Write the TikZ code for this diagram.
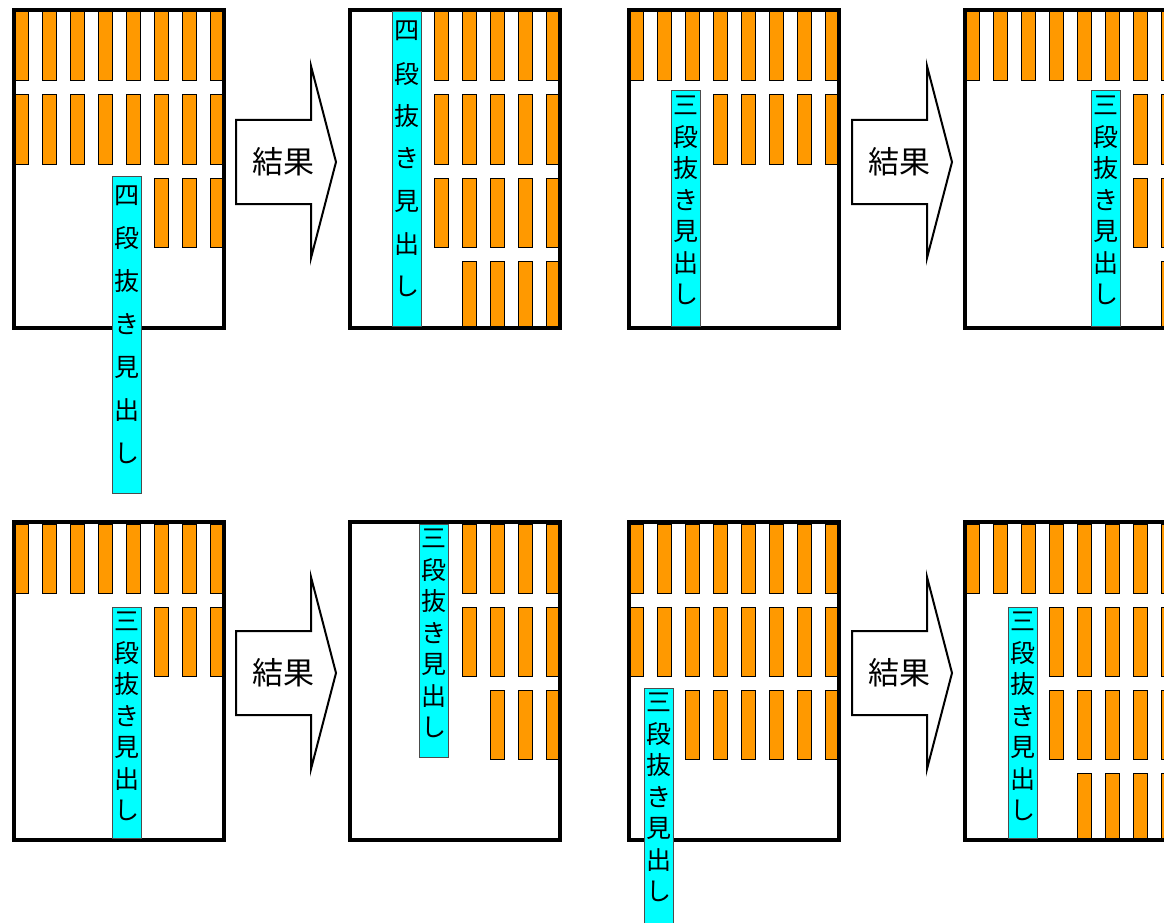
\documentclass[tikz,border=0pt]{standalone}
\usepackage{fontspec}
\newfontfamily\cjk{Noto Sans CJK JP}
\definecolor{danorange}{HTML}{FF9900}
\definecolor{midashicyan}{HTML}{00FFFF}
\tikzset{
  danbar/.style={draw=black, fill=danorange, line width=1pt},
  pageframe/.style={draw=black, line width=4pt},
  midashibox/.style={draw=black!70, fill=midashicyan, line width=1pt},
  midashichar/.style={font=\cjk\fontsize{25}{25}\selectfont, inner sep=0pt},
  resultarrow/.style={draw=black, fill=white, line width=2pt, line join=miter},
  kekka/.style={font=\cjk\fontsize{31}{31}\selectfont, inner sep=0pt},
}
% one page: bars (row/first col/last col) and frame
\newcommand{\kumimen}[3]{%
  \begin{scope}[shift={(#1,#2)}]
    \begin{scope}
      \clip (4,4) rectangle (210,318);
      \foreach \r/\a/\b in {#3}
        \foreach \c in {\a,...,\b}
          \draw[danbar] ({2+28.1*(\c-1)},{4+83*\r}) rectangle ++(14,69);
    \end{scope}
    \draw[pageframe] (2,2) rectangle (212,320);
  \end{scope}}
% vertical heading: name, left, top, bottom, first char, pitch
\newcommand{\midashi}[6]{%
  \draw[midashibox] (#2,#3) rectangle ({#2+29},#4);
  \foreach \ch [count=\i] in {#5,段,抜,き,見,出,し}
    \node[midashichar] (#1-\i) at ({#2+14.5},{#3+0.45*#6+(\i-1)*#6}) {\ch};}

\begin{document}
\begin{tikzpicture}[x=1pt,y=-1pt]
\fill[white] (0,0) rectangle (1164,923);
\useasboundingbox (0,0) rectangle (1164,923);

% top row
\kumimen{12}{8}{0/1/8, 1/1/8, 2/6/8}
\midashi{pa}{112}{176}{493}{四}{43}
\kumimen{348}{8}{0/4/8, 1/4/8, 2/4/8, 3/5/8}
\midashi{pb}{392}{12}{326}{四}{42.5}
\kumimen{627}{8}{0/1/8, 1/4/8}
\midashi{pc}{671}{91}{326}{三}{31.5}
\kumimen{963}{8}{0/1/8, 1/7/8, 2/7/8, 3/8/8}
\midashi{pd}{1091}{91}{326}{三}{31.5}

% bottom row
\kumimen{12}{520}{0/1/8, 1/6/8}
\midashi{qa}{112}{607}{838}{三}{31.5}
\kumimen{348}{520}{0/5/8, 1/5/8, 2/6/8}
\midashi{qb}{419}{524}{757}{三}{31.5}
\kumimen{627}{520}{0/1/8, 1/1/8, 2/3/8}
\midashi{qc}{644}{688}{926}{三}{31.5}
\kumimen{963}{520}{0/1/8, 1/4/8, 2/4/8, 3/5/8}
\midashi{qd}{1008}{607}{838}{三}{31.5}

% result arrows
\foreach \ax/\ay [count=\k] in {0/0, 616/0, 0/511, 616/511}{
  \begin{scope}[shift={(\ax,\ay)}]
    \draw[resultarrow] (236,120) -- (311,120) -- (311,66) -- (336,162)
      -- (311,258) -- (311,204) -- (236,204) -- cycle;
    \node[kekka] (kekka\k) at (283,162) {結果};
  \end{scope}
}
\end{tikzpicture}
\end{document}
